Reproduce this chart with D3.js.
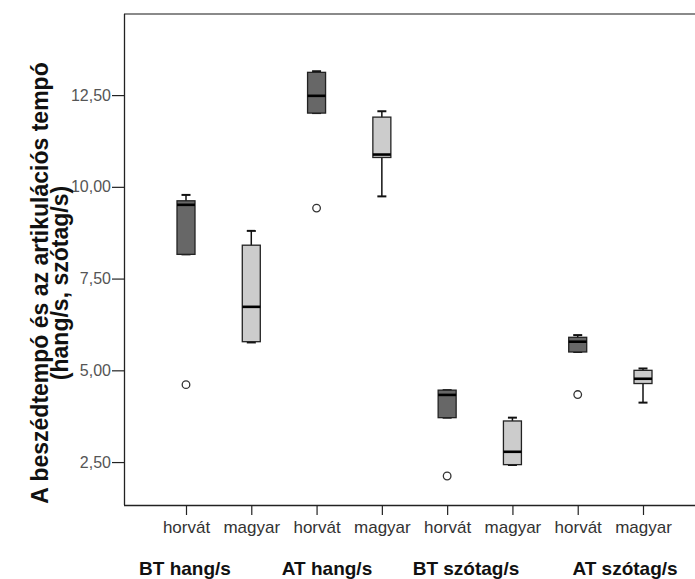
<!DOCTYPE html>
<html>
<head>
<meta charset="utf-8">
<script src="https://cdn.jsdelivr.net/npm/d3@7"></script>
<style>
  body { margin: 0; background: #fff; }
  svg { display: block; }
  text { font-family: Arial, "Liberation Sans", sans-serif; }
</style>
</head>
<body>
<div class="boxchart"></div>
<script>
// groups and categories
var groups = ["BT hang/s", "AT hang/s", "BT szótag/s", "AT szótag/s"];
var langs = ["horvát", "magyar"];

// box stats, one entry per box (group x lang)
var mins    = [8.16, 5.76, 12.01,  9.74, 3.71, 2.42, 5.50, 4.12];
var q1s     = [8.16, 5.78, 12.01, 10.80, 3.71, 2.43, 5.50, 4.64];
var medians = [9.51, 6.73, 12.48, 10.88, 4.33, 2.78, 5.78, 4.77];
var q3s     = [9.62, 8.41, 13.12, 11.90, 4.46, 3.62, 5.90, 5.00];
var maxs    = [9.78, 8.80, 13.15, 12.06, 4.46, 3.71, 5.96, 5.05];
var outliers = [[4.61], [], [9.42], [], [2.12], [], [4.34], []];

var yTicks = [2.5, 5, 7.5, 10, 12.5];

var width = 695, height = 579;
var margin = {left: 124, top: 14, bottom: 505};

var keys = [];
groups.forEach(function(g, i) {
  langs.forEach(function(l, j) { keys.push(i * 2 + j); });
});

var data = keys.map(function(k) {
  return {key: k, lang: langs[k % 2], group: groups[Math.floor(k / 2)],
          min: mins[k], q1: q1s[k], med: medians[k], q3: q3s[k], max: maxs[k],
          out: outliers[k]};
});

var xc = d3.scalePoint().domain(keys).range([186, 643]);
var yc = d3.scaleLinear().domain([1.33, 14.71]).range([margin.bottom, margin.top]);

var svg = d3.select(".boxchart").append("svg")
  .attr("width", width)
  .attr("height", height);

// frame
svg.append("line")
  .attr("x1", margin.left).attr("x2", width)
  .attr("y1", margin.top).attr("y2", margin.top)
  .attr("stroke", "#8a8a8a").attr("stroke-width", 2);

var yAxis = d3.axisLeft(yc)
  .tickValues(yTicks)
  .tickSize(12)
  .tickSizeOuter(0)
  .tickFormat(function(d) { return d3.format(".2f")(d).replace(".", ","); });

var gy = svg.append("g")
  .attr("transform", "translate(" + margin.left + ",0)")
  .call(yAxis);
gy.select(".domain")
  .attr("d", "M0.5," + margin.top + "V" + margin.bottom)
  .attr("stroke", "#222").attr("stroke-width", 1.3);
gy.selectAll(".tick line").attr("stroke", "#222").attr("stroke-width", 1.2);
gy.selectAll(".tick text")
  .attr("x", -13)
  .style("font-size", "16px")
  .attr("fill", "#555");

var xAxis = d3.axisBottom(xc).tickSize(10).tickSizeOuter(0)
  .tickFormat(function(d) { return langs[d % 2]; });

var gx = svg.append("g")
  .attr("transform", "translate(0," + margin.bottom + ")")
  .call(xAxis);
gx.select(".domain")
  .attr("d", "M" + margin.left + ",0.5H" + width)
  .attr("stroke", "#222").attr("stroke-width", 1.3);
gx.selectAll(".tick line").attr("stroke", "#222").attr("stroke-width", 1.2);
gx.selectAll(".tick text")
  .attr("y", 16)
  .style("font-size", "17px")
  .attr("fill", "#333");

// group labels
var groupLabelX = [185, 327, 466, 625];
var groupLabelY = [575, 575, 575, 575];
svg.selectAll(".grouplabel")
  .data(groups)
  .enter().append("text")
  .attr("class", "grouplabel")
  .attr("x", function(d, i) { return groupLabelX[i]; })
  .attr("y", function(d, i) { return groupLabelY[i]; })
  .attr("text-anchor", "middle")
  .style("font-size", "19px")
  .style("font-weight", "bold")
  .attr("fill", "#111")
  .text(function(d) { return d; });

// y title
var title = svg.append("text")
  .attr("transform", "translate(48,283) rotate(-90)")
  .attr("text-anchor", "middle")
  .style("font-size", "23px")
  .style("font-weight", "bold")
  .attr("fill", "#111");
title.append("tspan").attr("x", 0).attr("y", 0).text("A beszédtempó és az artikulációs tempó");
title.append("tspan").attr("x", 0).attr("y", 20).text("(hang/s, szótag/s)");

// boxes
var bw = 18, cw = 9;
var box = svg.selectAll(".box")
  .data(data)
  .enter().append("g")
  .attr("class", "box");

box.append("line")
  .attr("x1", function(d) { return xc(d.key); })
  .attr("x2", function(d) { return xc(d.key); })
  .attr("y1", function(d) { return yc(d.max); })
  .attr("y2", function(d) { return yc(d.min); })
  .attr("stroke", "#111").attr("stroke-width", 1.5);

box.selectAll(".cap")
  .data(function(d) { return [d.min, d.max].map(function(v) { return {key: d.key, v: v}; }); })
  .enter().append("line")
  .attr("class", "cap")
  .attr("x1", function(d) { return xc(d.key) - cw / 2; })
  .attr("x2", function(d) { return xc(d.key) + cw / 2; })
  .attr("y1", function(d) { return yc(d.v); })
  .attr("y2", function(d) { return yc(d.v); })
  .attr("stroke", "#111").attr("stroke-width", 2);

box.append("rect")
  .attr("x", function(d) { return xc(d.key) - bw / 2; })
  .attr("width", bw)
  .attr("y", function(d) { return yc(d.q3); })
  .attr("height", function(d) { return yc(d.q1) - yc(d.q3); })
  .attr("fill", function(d) { return d.key % 2 ? "#cccccc" : "#676767"; })
  .attr("stroke", "#222").attr("stroke-width", 1.3);

box.append("line")
  .attr("x1", function(d) { return xc(d.key) - bw / 2; })
  .attr("x2", function(d) { return xc(d.key) + bw / 2; })
  .attr("y1", function(d) { return yc(d.med); })
  .attr("y2", function(d) { return yc(d.med); })
  .attr("stroke", "#000").attr("stroke-width", 2.6);

box.selectAll(".outlier")
  .data(function(d) { return d.out.map(function(v) { return {key: d.key, v: v}; }); })
  .enter().append("circle")
  .attr("class", "outlier")
  .attr("cx", function(d) { return xc(d.key); })
  .attr("cy", function(d) { return yc(d.v); })
  .attr("r", 3.8)
  .attr("fill", "#fff")
  .attr("stroke", "#333").attr("stroke-width", 1.3);
</script>
</body>
</html>
